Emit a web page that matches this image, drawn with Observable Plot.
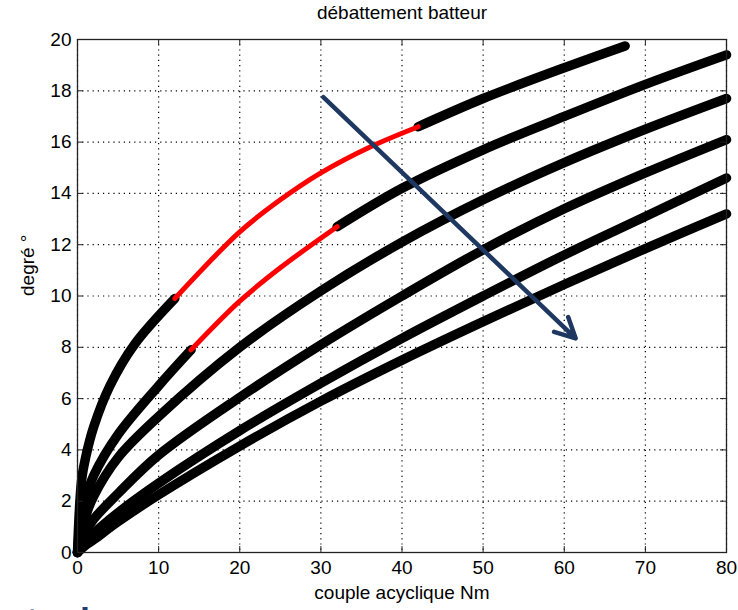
<!DOCTYPE html>
<html><head><meta charset="utf-8">
<script src="https://cdn.jsdelivr.net/npm/d3@7"></script>
<script src="https://cdn.jsdelivr.net/npm/@observablehq/plot@0.6"></script>
<style>
body{margin:0;background:#fff;}
#wrap{position:relative;width:738px;height:610px;overflow:hidden;background:#fff;}
#foot{position:absolute;left:-4px;top:601px;font:bold 36px "Liberation Sans",Arial,sans-serif;color:#1f3d6e;white-space:nowrap;line-height:1.15;}
</style></head><body>
<div id="wrap"><div id="chart"></div><div id="foot">a typique</div></div>
<script>
const title = "débattement batteur";
const xLabel = "couple acyclique Nm";
const yLabel = "degré °";
const footText = "a typique";
const xTicks = [0,10,20,30,40,50,60,70,80];
const yTicks = [0,2,4,6,8,10,12,14,16,18,20];

const curve1X = [0,0.5,1,2,4,7,12,20,25,30,36,42,50,60,67.5];
const curve1Y = [0,2.8,3.7,4.9,6.5,8.1,9.9,12.5,13.75,14.8,15.8,16.6,17.7,18.9,19.75];
const curve2X = [0,0.5,1,2,5,10,14,20,25,32,40,50,60,70,80];
const curve2Y = [0,1.5,2.1,3.0,4.6,6.5,7.9,9.8,11.1,12.7,14.2,15.7,17.0,18.25,19.4];
const curve3X = [0,1,2,5,10,20,30,40,50,60,70,80];
const curve3Y = [0,1.4,2.2,3.7,5.3,8.0,10.2,12.1,13.75,15.2,16.5,17.7];
const curve4X = [0,1,2,5,10,20,30,40,50,60,70,80];
const curve4Y = [0,0.8,1.3,2.3,3.8,6.05,8.1,10.0,11.8,13.4,14.8,16.1];
const curve5X = [0,1,2,5,10,20,30,40,50,60,70,80];
const curve5Y = [0,0.45,0.75,1.55,2.7,4.75,6.6,8.35,10.0,11.6,13.1,14.6];
const curve6X = [0,1,2,5,10,20,30,40,50,60,70,80];
const curve6Y = [0,0.28,0.5,1.2,2.25,4.15,5.9,7.5,9.0,10.45,11.85,13.2];
// red highlighted ranges (x start, x end) per curve
const redRanges = [[12,42],[14,32],null,null,null,null];
const arrowStart = [30.3,17.75];
const arrowEnd = [61.4,8.35];

const curvesX = [curve1X,curve2X,curve3X,curve4X,curve5X,curve6X];
const curvesY = [curve1Y,curve2Y,curve3Y,curve4Y,curve5Y,curve6Y];

const blackPts = [], redPts = [];
curvesX.forEach((xs,i)=>{
  const r = redRanges[i];
  xs.forEach((x,j)=>{
    const y = curvesY[i][j];
    if(!r){ blackPts.push({x,y,z:i+"a"}); return; }
    if(x<=r[0]) blackPts.push({x,y,z:i+"a"});
    if(x>=r[0] && x<=r[1]) redPts.push({x,y,z:i+"r"});
    if(x>=r[1]) blackPts.push({x,y,z:i+"b"});
  });
});

document.getElementById("foot").textContent = footText;

const W=738,H=610,mL=77,mR=12,mT=39,mB=58;
const pw=W-mL-mR, ph=H-mT-mB;
const font = '"Liberation Sans", Arial, sans-serif';

const chart = Plot.plot({
  width:W,height:H,marginLeft:mL,marginRight:mR,marginTop:mT,marginBottom:mB,
  style:{fontFamily:font,fontSize:"19px",color:"#000",background:"#fff"},
  x:{domain:[0,80]},
  y:{domain:[0,20]},
  marks:[
    Plot.gridX(xTicks,{stroke:"#000",strokeOpacity:1,strokeDasharray:"1.2,4",strokeWidth:1.2}),
    Plot.gridY(yTicks,{stroke:"#000",strokeOpacity:1,strokeDasharray:"1.2,4",strokeWidth:1.2}),
    Plot.line(blackPts,{x:"x",y:"y",z:"z",stroke:"#000",strokeWidth:9.5,curve:"catmull-rom",strokeLinecap:"round"}),
    Plot.line(redPts,{x:"x",y:"y",z:"z",stroke:"#ff0000",strokeWidth:5,curve:"catmull-rom"}),
    Plot.arrow([{x1:arrowStart[0],y1:arrowStart[1],x2:arrowEnd[0],y2:arrowEnd[1]}],
      {x1:"x1",y1:"y1",x2:"x2",y2:"y2",stroke:"#1f3861",strokeWidth:4.5,headLength:7.5,headAngle:54}),
    Plot.frame({stroke:"#222",strokeWidth:1.3}),
    Plot.tickX(xTicks,{x:d=>d,stroke:"#222",insetTop:ph-6}),
    Plot.tickX(xTicks,{x:d=>d,stroke:"#222",insetBottom:ph-6}),
    Plot.tickY(yTicks,{y:d=>d,stroke:"#222",insetRight:pw-6}),
    Plot.tickY(yTicks,{y:d=>d,stroke:"#222",insetLeft:pw-6}),
    Plot.axisX(xTicks,{tickSize:0,tickPadding:8,label:null,fontSize:19}),
    Plot.axisY(yTicks,{tickSize:0,tickPadding:6,label:null,fontSize:19}),
    Plot.text([title],{text:d=>d,frameAnchor:"top",lineAnchor:"middle",dy:-27,fontSize:19}),
    Plot.text([xLabel],{text:d=>d,frameAnchor:"bottom",lineAnchor:"middle",dy:40,fontSize:19}),
    Plot.text([yLabel],{text:d=>d,frameAnchor:"left",lineAnchor:"middle",dx:-50,rotate:-90,fontSize:19})
  ]
});
document.getElementById("chart").appendChild(chart);
</script>
</body></html>
